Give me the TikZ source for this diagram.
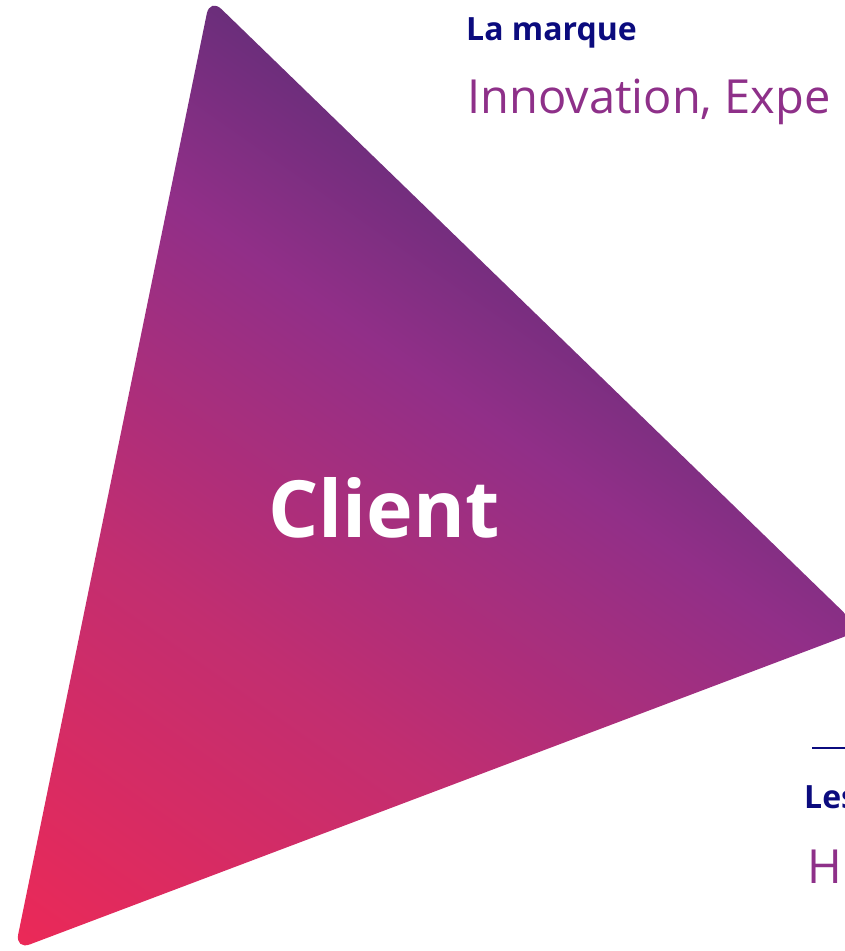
\documentclass[tikz,border=0pt]{standalone}
\usepackage{fontspec}
\setmainfont{Open Sans}
\definecolor{bleumarque}{HTML}{0B0B7E}
\definecolor{violettxt}{HTML}{8E3089}
\definecolor{gradrose}{HTML}{EA2958}
\definecolor{gradframb}{HTML}{C22E70}
\definecolor{gradviolet}{HTML}{912F88}
\definecolor{gradsombre}{HTML}{6B2E7B}
\pgfdeclarehorizontalshading{degradeclient}{100bp}{color(0bp)=(gradrose); color(16bp)=(gradrose); color(36bp)=(gradframb); color(54bp)=(gradviolet); color(64bp)=(gradsombre); color(100bp)=(gradsombre)}
\begin{document}
\begin{tikzpicture}[x=1pt,y=-1pt]
			\def\rayon{16pt}
			\tikzset{titre/.style={anchor=base west,inner sep=0pt,text=bleumarque,font=\bfseries\fontsize{32}{32}\selectfont},
				valeur/.style={anchor=base west,inner sep=0pt,text=violettxt,font=\fontsize{47}{47}\selectfont}}
			\useasboundingbox(0,0)rectangle(844,951);
			\path(210,-2)coordinate(S)(862,630)coordinate(D)(15,950)coordinate(G);
			\shade[shading=degradeclient,shading angle=55,rounded corners=\rayon](S)--(D)--(G)--cycle;
			\node[anchor=base west,inner sep=0pt,text=white,font=\bfseries\fontsize{79}{79}\selectfont](client) at (268,537){Client};
			%%Texte en haut
			\node[titre](marque) at (466,40){La marque};
			\node[valeur](marqueval) at (467,113){Innovation, Expe};
			%%Texte en bas
			\path(812,748)coordinate(traitA)(850,748)coordinate(traitB);
			\draw[bleumarque,line width=2pt](traitA)--(traitB);
			\node[titre](les) at (804,808){Les};
			\node[valeur](lesval) at (807,883){H};
		\end{tikzpicture}
\end{document}
